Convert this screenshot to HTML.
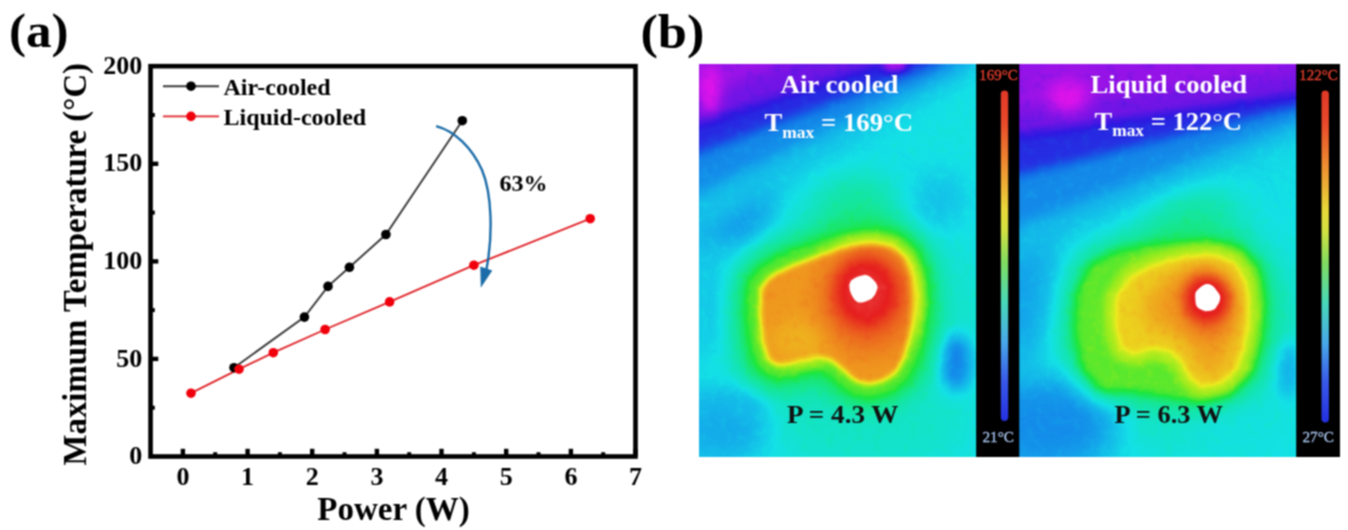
<!DOCTYPE html>
<html><head><meta charset="utf-8"><title>Figure</title>
<style>
html,body{margin:0;padding:0;background:#fff;}
svg{display:block;}
text{font-family:"Liberation Serif","DejaVu Serif",serif;font-weight:bold;}
</style></head><body>
<svg width="1348" height="530" viewBox="0 0 1348 530">
<defs>
<filter id="cmap" x="0" y="0" width="100%" height="100%" filterUnits="objectBoundingBox" color-interpolation-filters="sRGB">
<feTurbulence type="fractalNoise" baseFrequency="0.11" numOctaves="2" seed="3" result="n"/>
<feColorMatrix in="n" type="matrix" values="0.04 0 0 0 -0.02  0.04 0 0 0 -0.02  0.04 0 0 0 -0.02  0 0 0 0 1" result="n2"/>
<feComposite in="SourceGraphic" in2="n2" operator="arithmetic" k1="0" k2="1" k3="1" k4="0" result="s"/>
<feComponentTransfer in="s">
<feFuncR type="table" tableValues="0.882 0.829 0.776 0.723 0.669 0.616 0.563 0.510 0.462 0.415 0.367 0.319 0.272 0.224 0.176 0.164 0.152 0.140 0.127 0.115 0.103 0.091 0.078 0.078 0.078 0.078 0.078 0.078 0.078 0.078 0.078 0.078 0.078 0.078 0.078 0.078 0.078 0.078 0.078 0.078 0.078 0.078 0.078 0.078 0.078 0.078 0.078 0.083 0.088 0.093 0.098 0.103 0.108 0.113 0.118 0.185 0.252 0.319 0.387 0.454 0.521 0.588 0.644 0.699 0.755 0.810 0.866 0.922 0.924 0.926 0.929 0.931 0.934 0.936 0.939 0.941 0.939 0.937 0.935 0.932 0.930 0.928 0.926 0.924 0.922 0.919 0.917 0.914 0.912 0.909 0.907 0.904 0.902 0.908 0.913 0.919 0.941 0.980 1.000 1.000 1.000"/>
<feFuncG type="table" tableValues="0.078 0.078 0.078 0.078 0.078 0.078 0.078 0.078 0.081 0.084 0.087 0.090 0.092 0.095 0.098 0.135 0.172 0.208 0.245 0.282 0.319 0.355 0.392 0.424 0.456 0.488 0.520 0.551 0.583 0.615 0.647 0.676 0.706 0.735 0.765 0.794 0.824 0.853 0.882 0.885 0.887 0.890 0.892 0.895 0.897 0.900 0.902 0.902 0.902 0.902 0.902 0.902 0.902 0.902 0.902 0.905 0.908 0.910 0.913 0.916 0.919 0.922 0.922 0.922 0.922 0.922 0.922 0.922 0.885 0.848 0.811 0.775 0.738 0.701 0.664 0.627 0.597 0.566 0.536 0.505 0.475 0.444 0.414 0.383 0.353 0.324 0.294 0.265 0.235 0.206 0.176 0.147 0.118 0.151 0.185 0.218 0.426 0.809 1.000 1.000 1.000"/>
<feFuncB type="table" tableValues="0.922 0.919 0.916 0.913 0.910 0.908 0.905 0.902 0.899 0.896 0.894 0.891 0.888 0.885 0.882 0.885 0.887 0.890 0.892 0.895 0.897 0.900 0.902 0.904 0.907 0.909 0.912 0.914 0.917 0.919 0.922 0.919 0.917 0.914 0.912 0.909 0.907 0.904 0.902 0.870 0.838 0.806 0.775 0.743 0.711 0.679 0.647 0.596 0.544 0.493 0.441 0.390 0.338 0.287 0.235 0.218 0.202 0.185 0.168 0.151 0.134 0.118 0.118 0.118 0.118 0.118 0.118 0.118 0.118 0.118 0.118 0.118 0.118 0.118 0.118 0.118 0.118 0.118 0.118 0.118 0.118 0.118 0.118 0.118 0.118 0.118 0.118 0.118 0.118 0.118 0.118 0.118 0.118 0.151 0.185 0.218 0.426 0.809 1.000 1.000 1.000"/>
</feComponentTransfer>
</filter>
<filter id="b1" filterUnits="userSpaceOnUse" x="560" y="-80" width="920" height="700" color-interpolation-filters="sRGB"><feGaussianBlur stdDeviation="1"/></filter>
<filter id="b2" filterUnits="userSpaceOnUse" x="560" y="-80" width="920" height="700" color-interpolation-filters="sRGB"><feGaussianBlur stdDeviation="2"/></filter>
<filter id="b3" filterUnits="userSpaceOnUse" x="560" y="-80" width="920" height="700" color-interpolation-filters="sRGB"><feGaussianBlur stdDeviation="3"/></filter>
<filter id="b4" filterUnits="userSpaceOnUse" x="560" y="-80" width="920" height="700" color-interpolation-filters="sRGB"><feGaussianBlur stdDeviation="4"/></filter>
<filter id="b5" filterUnits="userSpaceOnUse" x="560" y="-80" width="920" height="700" color-interpolation-filters="sRGB"><feGaussianBlur stdDeviation="5"/></filter>
<filter id="b6" filterUnits="userSpaceOnUse" x="560" y="-80" width="920" height="700" color-interpolation-filters="sRGB"><feGaussianBlur stdDeviation="6"/></filter>
<filter id="b8" filterUnits="userSpaceOnUse" x="560" y="-80" width="920" height="700" color-interpolation-filters="sRGB"><feGaussianBlur stdDeviation="8"/></filter>
<filter id="b10" filterUnits="userSpaceOnUse" x="560" y="-80" width="920" height="700" color-interpolation-filters="sRGB"><feGaussianBlur stdDeviation="10"/></filter>
<filter id="b12" filterUnits="userSpaceOnUse" x="560" y="-80" width="920" height="700" color-interpolation-filters="sRGB"><feGaussianBlur stdDeviation="12"/></filter>
<filter id="b15" filterUnits="userSpaceOnUse" x="560" y="-80" width="920" height="700" color-interpolation-filters="sRGB"><feGaussianBlur stdDeviation="15"/></filter>
<filter id="b18" filterUnits="userSpaceOnUse" x="560" y="-80" width="920" height="700" color-interpolation-filters="sRGB"><feGaussianBlur stdDeviation="18"/></filter>
<filter id="b20" filterUnits="userSpaceOnUse" x="560" y="-80" width="920" height="700" color-interpolation-filters="sRGB"><feGaussianBlur stdDeviation="20"/></filter>
<filter id="b25" filterUnits="userSpaceOnUse" x="560" y="-80" width="920" height="700" color-interpolation-filters="sRGB"><feGaussianBlur stdDeviation="25"/></filter>
<filter id="b30" filterUnits="userSpaceOnUse" x="560" y="-80" width="920" height="700" color-interpolation-filters="sRGB"><feGaussianBlur stdDeviation="30"/></filter>
<filter id="b40" filterUnits="userSpaceOnUse" x="560" y="-80" width="920" height="700" color-interpolation-filters="sRGB"><feGaussianBlur stdDeviation="40"/></filter>
<filter id="soft" filterUnits="userSpaceOnUse" x="0" y="0" width="1348" height="530" color-interpolation-filters="sRGB"><feConvolveMatrix order="3" kernelMatrix="1 2 1 2 4 2 1 2 1" divisor="16" edgeMode="duplicate" preserveAlpha="false"/></filter>
<clipPath id="cL"><rect x="699" y="64" width="277.5" height="393"/></clipPath>
<clipPath id="cR"><rect x="1019" y="64" width="277.5" height="393"/></clipPath>
<linearGradient id="bar" x1="0" y1="0" x2="0" y2="1">
<stop offset="0" stop-color="#e03828"/>
<stop offset="0.10" stop-color="#e84a2a"/>
<stop offset="0.22" stop-color="#ee8a30"/>
<stop offset="0.36" stop-color="#e8d83a"/>
<stop offset="0.42" stop-color="#d4e040"/>
<stop offset="0.52" stop-color="#80dc60"/>
<stop offset="0.64" stop-color="#48d8b8"/>
<stop offset="0.76" stop-color="#48a8e8"/>
<stop offset="0.88" stop-color="#3858e8"/>
<stop offset="1" stop-color="#2430e0"/>
</linearGradient>
<linearGradient id="tlL" gradientUnits="userSpaceOnUse" x1="699" y1="64" x2="746.8" y2="195.6">
<stop offset="0.000" stop-color="rgb(10,10,10)" stop-opacity="1"/><stop offset="0.250" stop-color="rgb(18,18,18)" stop-opacity="1"/><stop offset="0.429" stop-color="rgb(31,31,31)" stop-opacity="1"/><stop offset="0.571" stop-color="rgb(46,46,46)" stop-opacity="1"/><stop offset="0.679" stop-color="rgb(66,66,66)" stop-opacity="1"/><stop offset="0.821" stop-color="rgb(82,82,82)" stop-opacity="1"/><stop offset="1.000" stop-color="rgb(98,98,98)" stop-opacity="0"/>
</linearGradient>
<linearGradient id="tlR" gradientUnits="userSpaceOnUse" x1="1030" y1="64" x2="1079" y2="222">
<stop offset="0.000" stop-color="rgb(13,13,13)" stop-opacity="1"/><stop offset="0.242" stop-color="rgb(18,18,18)" stop-opacity="1"/><stop offset="0.424" stop-color="rgb(26,26,26)" stop-opacity="1"/><stop offset="0.606" stop-color="rgb(41,41,41)" stop-opacity="1"/><stop offset="0.727" stop-color="rgb(61,61,61)" stop-opacity="1"/><stop offset="0.848" stop-color="rgb(79,79,79)" stop-opacity="1"/><stop offset="1.000" stop-color="rgb(96,96,96)" stop-opacity="0"/>
</linearGradient>
</defs>
<g filter="url(#soft)">
<g id="plot">
<polyline points="234.0,367.7 304.4,317.1 328.0,286.4 349.4,267.3 385.9,234.5 462.3,120.7" fill="none" stroke="#3a3a3a" stroke-width="1.9"/>
<polyline points="191.0,393.2 239.0,369.2 273.3,352.7 325.1,329.5 389.6,301.9 473.9,265.2 590.2,218.7" fill="none" stroke="#e0252b" stroke-width="1.9"/>
<circle cx="234.0" cy="367.7" r="4.8" fill="#000"/>
<circle cx="304.4" cy="317.1" r="4.8" fill="#000"/>
<circle cx="328.0" cy="286.4" r="4.8" fill="#000"/>
<circle cx="349.4" cy="267.3" r="4.8" fill="#000"/>
<circle cx="385.9" cy="234.5" r="4.8" fill="#000"/>
<circle cx="462.3" cy="120.7" r="4.8" fill="#000"/>
<circle cx="191.0" cy="393.2" r="4.8" fill="#f0000c"/>
<circle cx="239.0" cy="369.2" r="4.8" fill="#f0000c"/>
<circle cx="273.3" cy="352.7" r="4.8" fill="#f0000c"/>
<circle cx="325.1" cy="329.5" r="4.8" fill="#f0000c"/>
<circle cx="389.6" cy="301.9" r="4.8" fill="#f0000c"/>
<circle cx="473.9" cy="265.2" r="4.8" fill="#f0000c"/>
<circle cx="590.2" cy="218.7" r="4.8" fill="#f0000c"/>
<rect x="150.55" y="66.2" width="484.95" height="390.3" fill="none" stroke="#000" stroke-width="4.6"/>
<line x1="182.9" y1="456" x2="182.9" y2="448.8" stroke="#000" stroke-width="4.4"/>
<line x1="247.6" y1="456" x2="247.6" y2="448.8" stroke="#000" stroke-width="4.4"/>
<line x1="312.2" y1="456" x2="312.2" y2="448.8" stroke="#000" stroke-width="4.4"/>
<line x1="376.9" y1="456" x2="376.9" y2="448.8" stroke="#000" stroke-width="4.4"/>
<line x1="441.5" y1="456" x2="441.5" y2="448.8" stroke="#000" stroke-width="4.4"/>
<line x1="506.2" y1="456" x2="506.2" y2="448.8" stroke="#000" stroke-width="4.4"/>
<line x1="570.9" y1="456" x2="570.9" y2="448.8" stroke="#000" stroke-width="4.4"/>
<line x1="635.5" y1="456" x2="635.5" y2="448.8" stroke="#000" stroke-width="4.4"/>
<line x1="215.2" y1="456" x2="215.2" y2="452.2" stroke="#000" stroke-width="4"/>
<line x1="279.9" y1="456" x2="279.9" y2="452.2" stroke="#000" stroke-width="4"/>
<line x1="344.5" y1="456" x2="344.5" y2="452.2" stroke="#000" stroke-width="4"/>
<line x1="409.2" y1="456" x2="409.2" y2="452.2" stroke="#000" stroke-width="4"/>
<line x1="473.9" y1="456" x2="473.9" y2="452.2" stroke="#000" stroke-width="4"/>
<line x1="538.5" y1="456" x2="538.5" y2="452.2" stroke="#000" stroke-width="4"/>
<line x1="603.2" y1="456" x2="603.2" y2="452.2" stroke="#000" stroke-width="4"/>
<line x1="151" y1="358.9" x2="158.3" y2="358.9" stroke="#000" stroke-width="4.4"/>
<line x1="151" y1="261.4" x2="158.3" y2="261.4" stroke="#000" stroke-width="4.4"/>
<line x1="151" y1="163.8" x2="158.3" y2="163.8" stroke="#000" stroke-width="4.4"/>
<line x1="151" y1="407.7" x2="154.8" y2="407.7" stroke="#000" stroke-width="4"/>
<line x1="151" y1="310.1" x2="154.8" y2="310.1" stroke="#000" stroke-width="4"/>
<line x1="151" y1="212.6" x2="154.8" y2="212.6" stroke="#000" stroke-width="4"/>
<line x1="151" y1="115.0" x2="154.8" y2="115.0" stroke="#000" stroke-width="4"/>
<text x="182.9" y="485.2" font-size="26" text-anchor="middle">0</text>
<text x="247.6" y="485.2" font-size="26" text-anchor="middle">1</text>
<text x="312.2" y="485.2" font-size="26" text-anchor="middle">2</text>
<text x="376.9" y="485.2" font-size="26" text-anchor="middle">3</text>
<text x="441.5" y="485.2" font-size="26" text-anchor="middle">4</text>
<text x="506.2" y="485.2" font-size="26" text-anchor="middle">5</text>
<text x="570.9" y="485.2" font-size="26" text-anchor="middle">6</text>
<text x="635.5" y="485.2" font-size="26" text-anchor="middle">7</text>
<text x="142.2" y="464.1" font-size="26" text-anchor="end">0</text>
<text x="142.2" y="366.5" font-size="26" text-anchor="end">50</text>
<text x="142.2" y="269.0" font-size="26" text-anchor="end">100</text>
<text x="142.2" y="171.4" font-size="26" text-anchor="end">150</text>
<text x="142.2" y="73.8" font-size="26" text-anchor="end">200</text>
<text x="393.5" y="519.6" font-size="33" text-anchor="middle">Power (W)</text>
<text transform="translate(86,264.2) rotate(-90)" font-size="32.8" text-anchor="middle">Maximum Temperature (°C)</text>
<line x1="163" y1="86.2" x2="219" y2="86.2" stroke="#3a3a3a" stroke-width="1.9"/><circle cx="191" cy="86.2" r="4.8" fill="#000"/>
<line x1="163" y1="116.4" x2="219" y2="116.4" stroke="#e0252b" stroke-width="1.9"/><circle cx="191" cy="116.4" r="4.8" fill="#f0000c"/>
<text x="223.5" y="94.6" font-size="24">Air-cooled</text>
<text x="223.5" y="124.8" font-size="24">Liquid-cooled</text>
<path d="M436.1,126.1 C455,131 472,148 482,170 C492,194 493,235 486.5,269" fill="none" stroke="#1b6ca8" stroke-width="2.4"/>
<polygon points="480.8,287.8 480.3,266.6 492.3,270.4" fill="#1b6ca8"/>
<text x="499.5" y="191" font-size="24">63%</text>
<text x="9" y="46.8" font-size="48.5" textLength="59.6" lengthAdjust="spacingAndGlyphs">(a)</text>
<text x="640.4" y="48.2" font-size="48.5" textLength="64" lengthAdjust="spacingAndGlyphs">(b)</text>
</g>
<rect x="699" y="64" width="641" height="393" fill="#000"/>
<g clip-path="url(#cL)"><g filter="url(#cmap)">
<rect x="690" y="55" width="300" height="420" fill="rgb(98,98,98)"/>
<ellipse cx="838.0" cy="325.0" rx="125.0" ry="110.0" fill="rgb(115,115,115)" fill-opacity="1" filter="url(#b30)"/>
<ellipse cx="880.0" cy="425.0" rx="90.0" ry="35.0" fill="rgb(107,107,107)" fill-opacity="1" filter="url(#b20)"/>
<ellipse cx="715.0" cy="425.0" rx="55.0" ry="40.0" fill="rgb(82,82,82)" fill-opacity="1" filter="url(#b15)"/>
<ellipse cx="857.0" cy="215.0" rx="42.0" ry="38.0" fill="rgb(120,120,120)" fill-opacity="1" filter="url(#b15)"/>
<ellipse cx="705.0" cy="202.0" rx="70.0" ry="48.0" fill="rgb(69,69,69)" fill-opacity="1" filter="url(#b15)"/>
<ellipse cx="705.0" cy="300.0" rx="22.0" ry="70.0" fill="rgb(87,87,87)" fill-opacity="1" filter="url(#b15)"/>
<ellipse cx="722.0" cy="432.0" rx="30.0" ry="18.0" fill="rgb(79,79,79)" fill-opacity="1" filter="url(#b10)"/>
<ellipse cx="745.0" cy="405.0" rx="18.0" ry="10.0" fill="rgb(84,84,84)" fill-opacity="1" filter="url(#b8)"/>
<ellipse cx="956.0" cy="362.0" rx="16.0" ry="30.0" fill="rgb(66,66,66)" fill-opacity="1" filter="url(#b8)"/>
<ellipse cx="940.0" cy="200.0" rx="28.0" ry="30.0" fill="rgb(87,87,87)" fill-opacity="1" filter="url(#b12)"/>
<polygon points="680.0,40.0 1000.0,40.0 990.0,64.0 680.0,250.0" fill="rgb(87,87,87)" fill-opacity="1" filter="url(#b12)"/>
<polygon points="680.0,40.0 975.0,40.0 965.0,64.0 680.0,204.0" fill="rgb(68,68,68)" fill-opacity="1" filter="url(#b8)"/>
<polygon points="680.0,40.0 945.0,40.0 937.0,64.0 680.0,160.0" fill="rgb(41,41,41)" fill-opacity="1" filter="url(#b6)"/>
<polygon points="680.0,40.0 888.0,40.0 879.0,64.0 680.0,130.0" fill="rgb(22,22,22)" fill-opacity="1" filter="url(#b6)"/>
<polygon points="680.0,40.0 800.0,40.0 790.0,64.0 680.0,104.0" fill="rgb(13,13,13)" fill-opacity="1" filter="url(#b8)"/>
<ellipse cx="710.0" cy="90.0" rx="10.0" ry="24.0" fill="rgb(0,0,0)" fill-opacity="1" filter="url(#b6)"/>
<ellipse cx="895.0" cy="64.0" rx="13.0" ry="7.0" fill="rgb(5,5,5)" fill-opacity="1" filter="url(#b4)"/>
<polygon points="761.1,287.9 770.5,276.6 793.2,265.3 819.6,255.8 846.0,248.3 872.4,244.5 891.3,247.2 904.5,257.7 910.1,276.6 911.3,303.0 909.4,333.2 904.5,355.8 896.9,370.9 883.7,380.4 868.6,384.2 855.4,380.4 842.2,369.1 830.9,359.6 817.7,355.8 804.5,357.7 791.3,362.6 778.1,365.3 768.6,359.6 763.0,340.8 759.9,314.3" fill="rgb(131,131,131)" fill-opacity="0.85" stroke="rgb(131,131,131)" stroke-width="54" stroke-linejoin="round" filter="url(#b10)"/>
<polygon points="761.1,287.9 770.5,276.6 793.2,265.3 819.6,255.8 846.0,248.3 872.4,244.5 891.3,247.2 904.5,257.7 910.1,276.6 911.3,303.0 909.4,333.2 904.5,355.8 896.9,370.9 883.7,380.4 868.6,384.2 855.4,380.4 842.2,369.1 830.9,359.6 817.7,355.8 804.5,357.7 791.3,362.6 778.1,365.3 768.6,359.6 763.0,340.8 759.9,314.3" fill="rgb(147,147,147)" fill-opacity="1" stroke="rgb(147,147,147)" stroke-width="28" stroke-linejoin="round" filter="url(#b4)"/>
<polygon points="761.1,287.9 770.5,276.6 793.2,265.3 819.6,255.8 846.0,248.3 872.4,244.5 891.3,247.2 904.5,257.7 910.1,276.6 911.3,303.0 909.4,333.2 904.5,355.8 896.9,370.9 883.7,380.4 868.6,384.2 855.4,380.4 842.2,369.1 830.9,359.6 817.7,355.8 804.5,357.7 791.3,362.6 778.1,365.3 768.6,359.6 763.0,340.8 759.9,314.3" fill="rgb(194,194,194)" fill-opacity="1" filter="url(#b3)"/>
<ellipse cx="800.0" cy="340.0" rx="30.0" ry="20.0" fill="rgb(186,186,186)" fill-opacity="1" filter="url(#b10)"/>
<ellipse cx="868.0" cy="298.0" rx="44.0" ry="50.0" fill="rgb(217,217,217)" fill-opacity="1" filter="url(#b15)"/>
<ellipse cx="866.0" cy="292.0" rx="30.0" ry="33.0" fill="rgb(238,238,238)" fill-opacity="1" filter="url(#b8)"/>
<polygon points="876.9,288.7 875.9,292.4 874.1,295.8 872.0,298.2 869.5,299.8 866.5,301.1 863.0,302.2 859.3,302.4 856.0,301.0 853.6,298.2 851.9,295.1 850.7,292.0 849.9,288.7 849.8,285.0 850.7,281.6 852.9,279.2 856.0,277.6 859.6,276.3 863.0,275.2 866.3,275.0 869.5,276.4 872.7,279.2 875.3,282.3 876.8,285.4" fill="rgb(255,255,255)" fill-opacity="1" filter="url(#b1)"/>
</g></g>
<g clip-path="url(#cR)"><g filter="url(#cmap)">
<rect x="1010" y="55" width="300" height="420" fill="rgb(96,96,96)"/>
<ellipse cx="1175.0" cy="330.0" rx="130.0" ry="110.0" fill="rgb(115,115,115)" fill-opacity="1" filter="url(#b30)"/>
<ellipse cx="1240.0" cy="430.0" rx="60.0" ry="35.0" fill="rgb(99,99,99)" fill-opacity="1" filter="url(#b20)"/>
<ellipse cx="1045.0" cy="425.0" rx="75.0" ry="50.0" fill="rgb(69,69,69)" fill-opacity="1" filter="url(#b18)"/>
<ellipse cx="1190.0" cy="225.0" rx="50.0" ry="40.0" fill="rgb(120,120,120)" fill-opacity="1" filter="url(#b18)"/>
<ellipse cx="1019.0" cy="260.0" rx="35.0" ry="110.0" fill="rgb(76,76,76)" fill-opacity="1" filter="url(#b15)"/>
<ellipse cx="1288.0" cy="370.0" rx="12.0" ry="30.0" fill="rgb(79,79,79)" fill-opacity="1" filter="url(#b8)"/>
<polygon points="1000.0,40.0 1340.0,40.0 1340.0,120.0 1000.0,268.0" fill="rgb(85,85,85)" fill-opacity="1" filter="url(#b12)"/>
<polygon points="1000.0,40.0 1340.0,40.0 1340.0,105.0 1000.0,234.0" fill="rgb(68,68,68)" fill-opacity="1" filter="url(#b8)"/>
<polygon points="1000.0,40.0 1340.0,40.0 1340.0,96.0 1000.0,180.0" fill="rgb(41,41,41)" fill-opacity="1" filter="url(#b6)"/>
<polygon points="1000.0,40.0 1340.0,40.0 1340.0,88.0 1000.0,138.0" fill="rgb(22,22,22)" fill-opacity="1" filter="url(#b6)"/>
<polygon points="1000.0,40.0 1340.0,40.0 1340.0,66.0 1000.0,112.0" fill="rgb(14,14,14)" fill-opacity="1" filter="url(#b8)"/>
<ellipse cx="1068.0" cy="97.0" rx="20.0" ry="16.0" fill="rgb(0,0,0)" fill-opacity="1" filter="url(#b8)"/>
<polygon points="1081.6,295.5 1093.0,269.1 1119.4,255.8 1157.1,248.3 1202.4,244.5 1236.4,250.2 1255.2,269.1 1260.9,303.0 1257.1,340.8 1247.7,370.9 1228.8,389.8 1198.6,397.4 1168.4,391.7 1134.5,386.0 1104.3,386.0 1087.3,367.2 1079.8,333.2" fill="rgb(130,130,130)" fill-opacity="0.85" stroke="rgb(130,130,130)" stroke-width="28" stroke-linejoin="round" filter="url(#b10)"/>
<polygon points="1081.6,295.5 1093.0,269.1 1119.4,255.8 1157.1,248.3 1202.4,244.5 1236.4,250.2 1255.2,269.1 1260.9,303.0 1257.1,340.8 1247.7,370.9 1228.8,389.8 1198.6,397.4 1168.4,391.7 1134.5,386.0 1104.3,386.0 1087.3,367.2 1079.8,333.2" fill="rgb(147,147,147)" fill-opacity="1" stroke="rgb(147,147,147)" stroke-width="10" stroke-linejoin="round" filter="url(#b5)"/>
<polygon points="1115.6,299.2 1130.7,276.6 1153.3,265.3 1183.5,257.7 1213.7,255.8 1234.5,263.4 1245.8,284.2 1247.7,314.3 1243.9,344.5 1236.4,367.2 1221.3,382.3 1202.4,386.0 1191.1,378.5 1183.5,363.4 1172.2,352.1 1153.3,348.3 1134.5,354.0 1121.3,348.3 1115.6,325.7" fill="rgb(161,161,161)" fill-opacity="1" stroke="rgb(161,161,161)" stroke-width="22" stroke-linejoin="round" filter="url(#b5)"/>
<polygon points="1115.6,299.2 1130.7,276.6 1153.3,265.3 1183.5,257.7 1213.7,255.8 1234.5,263.4 1245.8,284.2 1247.7,314.3 1243.9,344.5 1236.4,367.2 1221.3,382.3 1202.4,386.0 1191.1,378.5 1183.5,363.4 1172.2,352.1 1153.3,348.3 1134.5,354.0 1121.3,348.3 1115.6,325.7" fill="rgb(178,178,178)" fill-opacity="1" filter="url(#b3)"/>
<polygon points="1145.8,295.5 1164.7,276.6 1191.1,267.2 1217.5,265.3 1232.6,276.6 1238.2,303.0 1236.4,333.2 1228.8,359.6 1217.5,374.7 1204.3,376.6 1194.8,363.4 1187.3,344.5 1172.2,333.2 1153.3,329.4 1142.0,314.3" fill="rgb(191,191,191)" fill-opacity="1" filter="url(#b10)"/>
<ellipse cx="1206.0" cy="304.0" rx="25.0" ry="31.0" fill="rgb(214,214,214)" fill-opacity="1" filter="url(#b10)" transform="rotate(-15 1206 304)"/>
<ellipse cx="1207.0" cy="299.0" rx="21.0" ry="22.0" fill="rgb(237,237,237)" fill-opacity="1" filter="url(#b6)"/>
<polygon points="1220.6,298.1 1219.2,301.7 1217.4,305.2 1216.0,308.0 1213.9,309.8 1210.7,310.7 1207.3,310.9 1204.3,310.7 1201.1,309.8 1197.9,308.0 1196.1,305.2 1195.8,301.7 1195.6,298.1 1195.0,294.7 1195.7,291.7 1198.3,288.9 1201.4,286.4 1204.2,284.6 1207.3,283.9 1210.8,284.6 1213.6,286.4 1215.5,288.9 1217.7,291.7 1220.0,294.7" fill="rgb(255,255,255)" fill-opacity="1" filter="url(#b1)"/>
</g></g>
<rect x="976.3" y="64" width="43" height="393" fill="#000"/>
<rect x="1296.4" y="64" width="43.6" height="393" fill="#000"/>
<rect x="1000.8" y="90.5" width="7.4" height="330.5" rx="3.7" fill="url(#bar)"/>
<rect x="1321.5" y="90.5" width="7.4" height="332" rx="3.7" fill="url(#bar)"/>
<text x="979.3" y="80" font-size="14" textLength="38.6" lengthAdjust="spacingAndGlyphs" fill="#ea4030" stroke="#ea4030" stroke-width="0.3" style="font-weight:normal">169°C</text>
<text x="1299.3" y="80" font-size="14" textLength="38.6" lengthAdjust="spacingAndGlyphs" fill="#ea4030" stroke="#ea4030" stroke-width="0.3" style="font-weight:normal">122°C</text>
<text x="982.5" y="442.3" font-size="15.5" textLength="31.5" lengthAdjust="spacingAndGlyphs" fill="#a9c4ee" stroke="#a9c4ee" stroke-width="0.3" style="font-weight:normal">21°C</text>
<text x="1302.5" y="442.3" font-size="15.5" textLength="31.5" lengthAdjust="spacingAndGlyphs" fill="#a9c4ee" stroke="#a9c4ee" stroke-width="0.3" style="font-weight:normal">27°C</text>
<text x="780.5" y="93.4" font-size="26" textLength="118" lengthAdjust="spacingAndGlyphs" fill="#fff">Air cooled</text>
<text x="764.5" y="131" font-size="26" textLength="148.5" lengthAdjust="spacingAndGlyphs" fill="#fff">T<tspan font-size="17" dy="6.5">max</tspan><tspan dy="-6.5"> = 169°C</tspan></text>
<text x="1090.5" y="92.6" font-size="26" textLength="156.5" lengthAdjust="spacingAndGlyphs" fill="#fff">Liquid cooled</text>
<text x="1094.5" y="129.8" font-size="26" textLength="147.5" lengthAdjust="spacingAndGlyphs" fill="#fff">T<tspan font-size="17" dy="6.5">max</tspan><tspan dy="-6.5"> = 122°C</tspan></text>
<text x="787" y="422.5" font-size="26" textLength="111.5" lengthAdjust="spacingAndGlyphs" fill="#111">P = 4.3 W</text>
<text x="1114.5" y="422.5" font-size="26" textLength="108.5" lengthAdjust="spacingAndGlyphs" fill="#111">P = 6.3 W</text>
</g>
</svg>
</body></html>
